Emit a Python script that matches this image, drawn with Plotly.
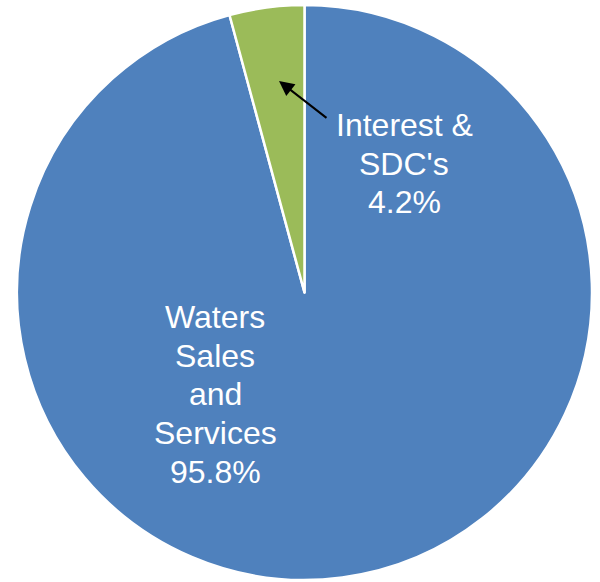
import plotly.graph_objects as go

# Revenue sources
categories = ["Waters Sales and Services", "Interest & SDC's"]
values = [95.8, 4.2]
label_lines = [["Waters", "Sales", "and", "Services"], ["Interest &", "SDC's"]]
colors = ["#4F81BD", "#9BBB59"]

W, H = 600, 582
total = sum(values)

fig = go.Figure(
    go.Pie(
        labels=categories,
        values=values,
        sort=False,
        direction="clockwise",
        rotation=0,
        textinfo="none",
        hoverinfo="label+percent",
        marker=dict(colors=colors, line=dict(color="white", width=2.5)),
        domain=dict(x=[15 / W, 594 / W], y=[2 / H, 577 / H]),
        showlegend=False,
    )
)

font = dict(family="Liberation Sans, Arial, sans-serif", size=32, color="white")
line_gap = 38.7


def add_label(lines, cx, cy_first):
    for i, t in enumerate(lines):
        fig.add_annotation(
            x=cx / W, y=1 - (cy_first + i * line_gap) / H,
            xref="paper", yref="paper", text=t, showarrow=False,
            font=font, xanchor="center", yanchor="middle",
        )


for lines, v, (cx, cy) in zip(label_lines, values, [(215, 317), (404, 125)]):
    pct = f"{v / total * 100:.1f}%"
    add_label(lines + [pct], cx, cy)

# Leader arrow pointing into the small slice
fig.add_annotation(
    x=279 / W, y=1 - 81 / H, xref="paper", yref="paper",
    ax=49, ay=38, text="", showarrow=True,
    arrowhead=2, arrowsize=1.5, arrowwidth=2, arrowcolor="black",
)

fig.update_layout(
    width=W, height=H,
    margin=dict(l=0, r=0, t=0, b=0),
    paper_bgcolor="white",
)

fig.write_html("out.html")
